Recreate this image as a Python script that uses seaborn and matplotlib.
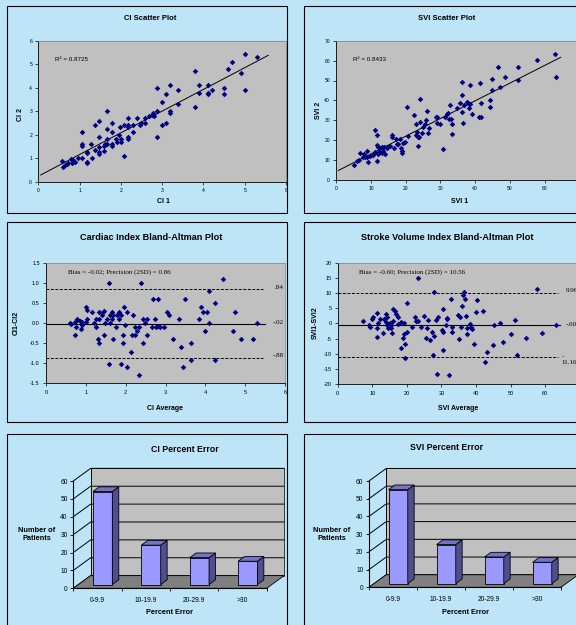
import numpy as np
import pandas as pd
import matplotlib
matplotlib.use("Agg")
import matplotlib.pyplot as plt
from matplotlib.patches import Rectangle, Polygon
import seaborn as sns

# ---- data ----
ci1 = [0.58, 0.61, 0.65, 0.70, 0.73, 0.78, 0.81, 0.85, 0.89, 0.97,
       1.07, 1.07, 1.07, 1.07, 1.17, 1.19, 1.19, 1.19, 1.28, 1.29,
       1.37, 1.37, 1.48, 1.48, 1.48, 1.48, 1.48, 1.58, 1.59, 1.62,
       1.67, 1.67, 1.67, 1.67, 1.78, 1.78, 1.78, 1.78, 1.88, 1.90,
       1.96, 1.98, 2.00, 2.00, 2.08, 2.08, 2.18, 2.18, 2.18, 2.18,
       2.18, 2.29, 2.29, 2.38, 2.46, 2.48, 2.58, 2.58, 2.69, 2.75,
       2.79, 2.80, 2.88, 2.88, 2.88, 2.99, 2.99, 3.09, 3.09, 3.19,
       3.19, 3.19, 3.39, 3.39, 3.80, 3.80, 3.90, 3.90, 4.10, 4.10,
       4.10, 4.20, 4.50, 4.50, 4.60, 4.70, 4.90, 5.00, 5.00, 5.29]
ci2 = [0.90, 0.64, 0.71, 0.75, 0.78, 0.97, 0.78, 0.92, 0.85, 1.00,
       2.13, 1.60, 1.52, 1.01, 1.28, 0.85, 0.81, 1.21, 1.60, 1.00,
       2.40, 1.35, 2.60, 1.92, 1.28, 1.18, 1.50, 1.52, 1.32, 1.60,
       3.00, 2.23, 1.80, 1.60, 2.50, 2.12, 1.52, 1.60, 1.80, 1.70,
       2.00, 2.32, 1.80, 1.70, 1.10, 2.40, 2.70, 2.42, 2.32, 1.90,
       1.80, 2.42, 2.12, 2.70, 2.42, 2.50, 2.70, 2.50, 2.80, 2.85,
       2.92, 2.80, 4.01, 3.00, 1.92, 3.41, 2.40, 3.73, 2.52, 4.12,
       3.02, 2.92, 3.91, 3.31, 4.72, 3.20, 4.12, 3.80, 4.12, 3.80,
       3.73, 3.91, 4.01, 3.73, 4.81, 5.12, 4.62, 5.43, 3.91, 5.30]
ci_r2 = "0.8725"
ci_trend_x = [0.06, 5.57]

svi1 = [5.2, 6.1, 6.5, 6.8, 7.8, 8.1, 8.4, 8.9, 9.2, 8.9,
        9.7, 10.5, 11.1, 11.1, 11.6, 11.6, 11.8, 12.1, 12.1, 12.4,
        12.6, 13.1, 13.2, 13.5, 13.7, 14.0, 14.5, 14.7, 15.5, 15.9,
        15.9, 16.6, 17.2, 17.6, 17.8, 18.3, 18.6, 18.8, 18.8, 19.3,
        19.8, 20.5, 20.7, 22.5, 23.0, 23.0, 23.3, 23.6, 23.6, 23.8,
        24.1, 24.1, 24.6, 25.1, 25.6, 25.8, 26.0, 26.3, 26.7, 28.7,
        28.9, 29.1, 30.0, 30.8, 31.3, 31.8, 32.3, 32.5, 32.7, 32.9,
        33.2, 33.2, 34.8, 35.6, 36.1, 36.3, 36.3, 36.6, 36.8, 37.7,
        38.0, 38.2, 38.5, 38.5, 39.0, 41.2, 41.4, 41.8, 41.8, 44.2,
        44.2, 44.9, 44.9, 46.6, 47.1, 48.5, 52.2, 52.2, 57.7, 63.0,
        63.4]
svi2 = [7.5, 9.7, 10.0, 13.7, 11.7, 13.1, 11.4, 11.7, 9.2, 14.6,
        12.1, 12.6, 14.2, 25.1, 9.7, 17.6, 22.6, 16.8, 13.1, 14.2,
        15.9, 16.4, 13.4, 14.7, 16.8, 13.1, 16.8, 15.9, 17.1, 22.6,
        21.8, 15.9, 20.4, 18.1, 18.1, 20.4, 15.9, 14.7, 13.7, 18.4,
        19.3, 36.9, 22.1, 32.7, 28.1, 22.6, 24.3, 21.8, 17.1, 21.4,
        40.5, 29.3, 23.8, 26.5, 28.1, 30.2, 34.7, 23.8, 26.0, 31.5,
        28.5, 31.8, 28.1, 15.4, 31.5, 33.2, 33.5, 30.5, 37.7, 30.5,
        28.1, 22.9, 36.0, 38.9, 34.3, 42.7, 49.4, 28.8, 37.7, 39.4,
        38.9, 36.0, 47.7, 38.2, 33.2, 31.8, 48.6, 38.5, 31.5, 40.2,
        36.5, 50.6, 45.2, 56.6, 46.9, 51.6, 56.6, 50.3, 60.3, 63.1,
        51.6]
svi_r2 = "0.8433"
svi_trend_x = [0.6, 64.6]

ci_avg = [0.60, 0.64, 0.73, 0.73, 0.75, 0.79, 0.85, 0.87, 0.90, 0.90,
          1.00, 1.04, 1.04, 1.00, 1.15, 1.20, 1.26, 1.26, 1.30, 1.34,
          1.34, 1.34, 1.40, 1.42, 1.46, 1.46, 1.48, 1.54, 1.59, 1.59,
          1.60, 1.60, 1.65, 1.65, 1.69, 1.69, 1.76, 1.79, 1.84, 1.84,
          1.89, 1.89, 1.94, 1.94, 1.97, 1.99, 2.03, 2.04, 2.13, 2.15,
          2.19, 2.23, 2.23, 2.29, 2.34, 2.34, 2.39, 2.43, 2.44, 2.49,
          2.54, 2.54, 2.65, 2.69, 2.74, 2.76, 2.80, 2.80, 2.86, 2.95,
          3.05, 3.10, 3.20, 3.34, 3.40, 3.45, 3.49, 3.63, 3.64, 3.85,
          3.89, 3.95, 3.99, 4.05, 4.09, 4.10, 4.24, 4.24, 4.44, 4.70,
          4.74, 4.90, 5.20, 5.29]
ci_diff = [0.00, -0.03, 0.02, -0.31, -0.09, 0.10, 0.05, -0.16, -0.05, 0.02,
           0.41, 0.32, 0.10, 0.02, 0.28, 0.00, 0.10, -0.10, -0.41, 0.28,
           0.10, -0.50, 0.20, 0.28, 0.31, -0.30, 0.00, 0.10, 0.99, -1.01,
           0.20, 0.00, 0.28, 0.10, 0.20, -0.41, -0.10, 0.20, 0.28, 0.10,
           0.20, -1.01, -0.30, -0.50, 0.41, -0.05, 0.28, -1.10, -0.71, -0.30,
           0.20, -0.10, -0.30, -0.20, -0.10, -1.30, 0.99, -0.50, 0.10, 0.00,
           0.10, -0.30, -0.10, 0.60, 0.10, -0.10, 0.60, -0.07, -0.10, -0.10,
           0.28, 0.20, -0.41, 0.10, -0.60, -1.10, 0.60, -0.50, -0.91, 0.10,
           0.41, 0.28, -0.20, 0.28, 0.80, 0.00, 0.50, -0.91, 1.09, -0.20,
           0.28, -0.41, -0.41, 0.00]
ci_bias, ci_upper, ci_lower = -0.02, 0.84, -0.88
ci_ba_text = "Bias = -0.02; Precision (2SD) = 0.86"
ci_ba_labels = [".84", "-.02", "-.88"]
ci_ba_xend = 5.5

svi_avg = [7.4, 9.0, 9.4, 9.8, 10.1, 11.3, 11.5, 11.5, 11.8, 12.3,
           13.0, 13.5, 13.9, 14.0, 14.2, 14.3, 14.6, 15.1, 15.3, 15.5,
           15.6, 15.9, 16.1, 16.6, 16.9, 17.3, 17.5, 18.2, 18.3, 19.0,
           19.3, 19.3, 19.5, 19.6, 20.0, 20.0, 21.4, 22.4, 22.7, 23.1,
           23.3, 24.0, 25.0, 25.6, 25.9, 26.2, 26.7, 27.2, 27.7, 27.9,
           27.9, 28.4, 28.8, 29.0, 30.1, 30.4, 30.4, 30.6, 31.3, 31.5,
           31.7, 32.3, 32.8, 33.0, 33.0, 34.9, 35.1, 35.4, 35.6, 35.9,
           36.2, 36.4, 36.8, 37.0, 37.3, 37.3, 38.3, 38.5, 38.8, 39.4,
           40.0, 40.2, 42.1, 42.6, 43.3, 45.0, 45.2, 46.9, 47.9, 50.1,
           51.3, 51.8, 54.5, 57.6, 59.2, 63.2]
svi_diff = [0.8, -0.5, -1.1, 1.4, 2.2, 3.6, -1.4, -4.5, 0.3, 1.4,
            -3.2, 1.6, 3.0, 0.5, -0.5, 2.3, -1.6, 0.0, -0.5, -1.6,
            -3.2, 0.8, 4.9, 4.1, 3.0, 2.1, -0.3, 0.5, -8.0, -4.9,
            0.3, -3.3, -11.2, -6.9, 6.9, -2.7, -1.3, 2.3, 0.8, 0.8,
            15.1, -1.3, 2.5, -4.9, -1.4, 1.0, -5.4, -2.7, -10.2, 10.2,
            -4.1, 1.1, -16.5, 2.2, -2.2, -8.7, -2.7, 4.9, -0.5, 1.6,
            1.9, -16.8, 7.9, -2.7, -1.1, 2.7, -5.2, 2.1, -1.3, 5.8,
            9.3, 10.4, 8.2, 2.4, -3.5, -1.4, -0.3, -1.2, -1.9, -6.6,
            3.8, 7.7, 4.1, -12.6, -9.5, -7.1, -0.5, 0.1, -6.0, -3.3,
            1.3, -10.4, -4.7, 11.5, -3.0, -0.5]
svi_bias, svi_upper, svi_lower = -0.60, 9.96, -11.16
svi_ba_text = "Bias = -0.60; Precision (2SD) = 10.56"
svi_ba_labels = ["9.96", "-.60", "-\n11.16"]
svi_ba_xend = 64.3

err_cats = ["0-9.9", "10-19.9", "20-29.9", ">30"]
ci_err = [52, 22, 15, 13]
svi_err = [53, 22, 15, 12]

# ---- style ----
BG = "#BDE5F7"
PLOT_GRAY = "#C0C0C0"
NAVY = "#000080"
FRONT, SIDE, TOP = "#9999FF", "#4F4F8F", "#7373C8"
FLOOR = "#808080"
W, H = 576, 625

plt.rcParams["font.family"] = ["Liberation Sans", "DejaVu Sans"]
SERIF = ["Liberation Serif", "DejaVu Serif"]

fig = plt.figure(figsize=(W / 100, H / 100), dpi=100, facecolor=BG)


def px_axes(l, t, r, b):
    return fig.add_axes([l / W, 1 - b / H, (r - l) / W, (b - t) / H])


def ftext(x, y, s, **kw):
    fig.text(x / W, 1 - y / H, s, ha="center", va="center", **kw)


# panel frames
for l, t, r, b in [(7, 6, 287, 213), (304, 6, 600, 213),
                   (7, 222, 287, 422), (304, 222, 600, 422),
                   (7, 434, 287, 640), (304, 434, 600, 640)]:
    fig.add_artist(Rectangle((l / W, 1 - b / H), (r - l) / W, (b - t) / H,
                             transform=fig.transFigure, fill=False,
                             ec="black", lw=0.8))


def style_plot_axes(ax, tick_size):
    ax.set_facecolor(PLOT_GRAY)
    for side in ["top", "right"]:
        ax.spines[side].set_color("#808080")
        ax.spines[side].set_linewidth(0.5)
    for side in ["left", "bottom"]:
        ax.spines[side].set_color("black")
        ax.spines[side].set_linewidth(0.6)
    ax.tick_params(direction="out", length=2, width=0.5, pad=2.5,
                   labelsize=tick_size)
    ax.set_xlabel("")
    ax.set_ylabel("")


def scatter_panel(ax, x, y, r2, trend_x, lim, step, r2_pos):
    sns.scatterplot(x=x, y=y, ax=ax, color=NAVY, marker="D", s=8,
                    linewidth=0, zorder=3)
    slope, icpt = np.polyfit(x, y, 1)
    tx = np.array(trend_x)
    ax.plot(tx, slope * tx + icpt, color="black", lw=0.7, zorder=2)
    ax.set_xlim(0, lim)
    ax.set_ylim(0, lim)
    ax.set_xticks(np.arange(0, lim + step / 2, step))
    ax.set_yticks(np.arange(0, lim + step / 2, step))
    ax.text(r2_pos[0], r2_pos[1], "R² = " + r2, fontsize=4.5,
            ha="left", va="center")
    style_plot_axes(ax, 3.6)


def ba_panel(ax, avg, diff, bias, upper, lower, xend, dash_end, info,
             info_pos, labels, label_pos, xlim, xstep, ylim, ystep, yfmt):
    sns.scatterplot(x=avg, y=diff, ax=ax, color=NAVY, marker="D", s=8,
                    linewidth=0, zorder=3)
    ax.plot([0, xend], [bias, bias], color="black", lw=0.8, zorder=2)
    for v in [upper, lower]:
        ax.plot([0, dash_end], [v, v], color="black", lw=0.7,
                ls=(0, (3, 1.6)), zorder=2)
    ax.set_xlim(0, xlim)
    ax.set_ylim(-ylim, ylim)
    ax.set_xticks(np.arange(0, xlim + xstep / 2, xstep))
    yt = np.arange(-ylim, ylim + ystep / 2, ystep)
    ax.set_yticks(yt)
    ax.set_yticklabels([yfmt.format(v) for v in yt])
    ax.text(info_pos[0], info_pos[1], info, family=SERIF, fontsize=5,
            ha="left", va="center")
    for s, (lx, ly, ha) in zip(labels, label_pos):
        ax.text(lx, ly, s, family=SERIF, fontsize=5, ha=ha, va="center",
                linespacing=1.3)
    style_plot_axes(ax, 4)


def bar3d_panel(ax, cats, vals):
    DX, DY = 0.359, 7.08      # depth of the 3-d box
    off, depth = 0.30, 0.37   # where bars sit inside the depth
    sns.barplot(x=cats, y=vals, ax=ax, color=FRONT, width=0.4,
                saturation=1, edgecolor="black", linewidth=0.6, zorder=5)
    bars = list(ax.patches)
    ax.set_xlim(-0.5, 3.5)
    ax.set_ylim(0, 60)
    ax.set_facecolor("none")
    n = len(cats)
    # back wall, gridlines, floor
    ax.add_patch(Rectangle((-0.5 + DX, DY), n, 60, fc=PLOT_GRAY, ec="black",
                           lw=0.5, zorder=0.2, clip_on=False))
    for v in range(0, 61, 10):
        ax.plot([-0.5, -0.5 + DX, n - 0.5 + DX], [v, v + DY, v + DY],
                color="black", lw=0.7, zorder=0.5, clip_on=False)
    ax.plot([-0.5 + DX] * 2, [DY, 60 + DY], color="black", lw=0.6,
            zorder=0.5, clip_on=False)
    ax.add_patch(Polygon([(-0.5, 0), (n - 0.5, 0), (n - 0.5 + DX, DY),
                          (-0.5 + DX, DY)], closed=True, fc=FLOOR,
                         ec="black", lw=0.6, zorder=1, clip_on=False))
    # push bars into the box and give them a side and a top
    for p in bars:
        p.set_x(p.get_x() + off * DX)
        p.set_y(off * DY)
        x0, w, h = p.get_x(), p.get_width(), p.get_height()
        y0 = p.get_y()
        ddx, ddy = depth * DX, depth * DY
        ax.add_patch(Polygon([(x0 + w, y0), (x0 + w, y0 + h),
                              (x0 + w + ddx, y0 + h + ddy),
                              (x0 + w + ddx, y0 + ddy)], closed=True,
                             fc=SIDE, ec="black", lw=0.6, zorder=5,
                             clip_on=False))
        ax.add_patch(Polygon([(x0, y0 + h), (x0 + w, y0 + h),
                              (x0 + w + ddx, y0 + h + ddy),
                              (x0 + ddx, y0 + h + ddy)], closed=True,
                             fc=TOP, ec="black", lw=0.6, zorder=5,
                             clip_on=False))
    for side in ["top", "right"]:
        ax.spines[side].set_visible(False)
    for side in ["left", "bottom"]:
        ax.spines[side].set_linewidth(0.8)
        ax.spines[side].set_zorder(6)
    ax.set_yticks(range(0, 61, 10))
    ax.set_xticks(range(n))
    ax.set_xticklabels(cats)
    ax.set_xticks(np.arange(-0.5, n, 1.0), minor=True)
    ax.tick_params(axis="x", which="major", length=0, pad=6, labelsize=4.8)
    ax.tick_params(axis="x", which="minor", direction="out", length=2.5,
                   width=0.6)
    ax.tick_params(axis="y", direction="out", length=2.5, width=0.6,
                   pad=1.5, labelsize=4.8)
    ax.set_xlabel("")
    ax.set_ylabel("")


# ---- top row: scatter plots ----
ax = px_axes(38.3, 41, 286, 181.7)
scatter_panel(ax, ci1, ci2, ci_r2, ci_trend_x, 6, 1, (0.4, 5.2))
ftext(150, 18, "CI Scatter Plot", fontsize=5.5, weight="bold")
ftext(163, 202, "CI 1", fontsize=5, weight="bold")
ftext(20, 115, "CI 2", fontsize=5, weight="bold", rotation=90)

ax = px_axes(336.3, 40.7, 579.4, 180)
scatter_panel(ax, svi1, svi2, svi_r2, svi_trend_x, 70, 10, (4.9, 60.8))
ftext(447, 18, "SVI Scatter Plot", fontsize=5.5, weight="bold")
ftext(460, 202, "SVI 1", fontsize=5, weight="bold")
ftext(318, 110, "SVI 2", fontsize=5, weight="bold", rotation=90)

# ---- middle row: Bland-Altman ----
ax = px_axes(46, 262.7, 285, 383.3)
ba_panel(ax, ci_avg, ci_diff, ci_bias, ci_upper, ci_lower, ci_ba_xend, 5.46,
         ci_ba_text, (0.54, 1.26), ci_ba_labels,
         [(5.96, 0.88, "right"), (5.96, 0.02, "right"),
          (5.96, -0.80, "right")],
         6, 1, 1.5, 0.5, "{:.1f}")
ftext(151, 237, "Cardiac Index Bland-Altman Plot", fontsize=6.6,
      weight="bold")
ftext(165, 408, "CI Average", fontsize=5, weight="bold")
ftext(16, 323, "CI1-CI2", fontsize=5, weight="bold", rotation=90)

ax = px_axes(337.7, 262.7, 579.7, 384.3)
ba_panel(ax, svi_avg, svi_diff, svi_bias, svi_upper, svi_lower, svi_ba_xend,
         63.8, svi_ba_text, (6.2, 16.8), svi_ba_labels,
         [(66.0, 11.0, "left"), (65.9, -0.2, "left"),
          (64.8, -11.9, "left")],
         70, 10, 20, 5, "{:.0f}")
ftext(447, 237, "Stroke Volume Index Bland-Altman Plot", fontsize=6.6,
      weight="bold")
ftext(458, 408, "SVI Average", fontsize=5, weight="bold")
ftext(315, 323, "SVI1-SVI2", fontsize=5, weight="bold", rotation=90)

# ---- bottom row: percent error bars ----
ax = px_axes(73.3, 481, 266.7, 588.3)
bar3d_panel(ax, err_cats, ci_err)
ftext(185, 449, "CI Percent Error", fontsize=6.3, weight="bold")
ftext(169, 612, "Percent Error", fontsize=5.3, weight="bold")
ftext(37, 534, "Number of\nPatients", fontsize=5.3, weight="bold")

ax = px_axes(369, 481, 561, 587.3)
bar3d_panel(ax, err_cats, svi_err)
ftext(447, 448, "SVI Percent Error", fontsize=6.3, weight="bold")
ftext(465, 613, "Percent Error", fontsize=5.3, weight="bold")
ftext(332, 534, "Number of\nPatients", fontsize=5.3, weight="bold")

fig.savefig("out.png", dpi=100, facecolor=BG)
